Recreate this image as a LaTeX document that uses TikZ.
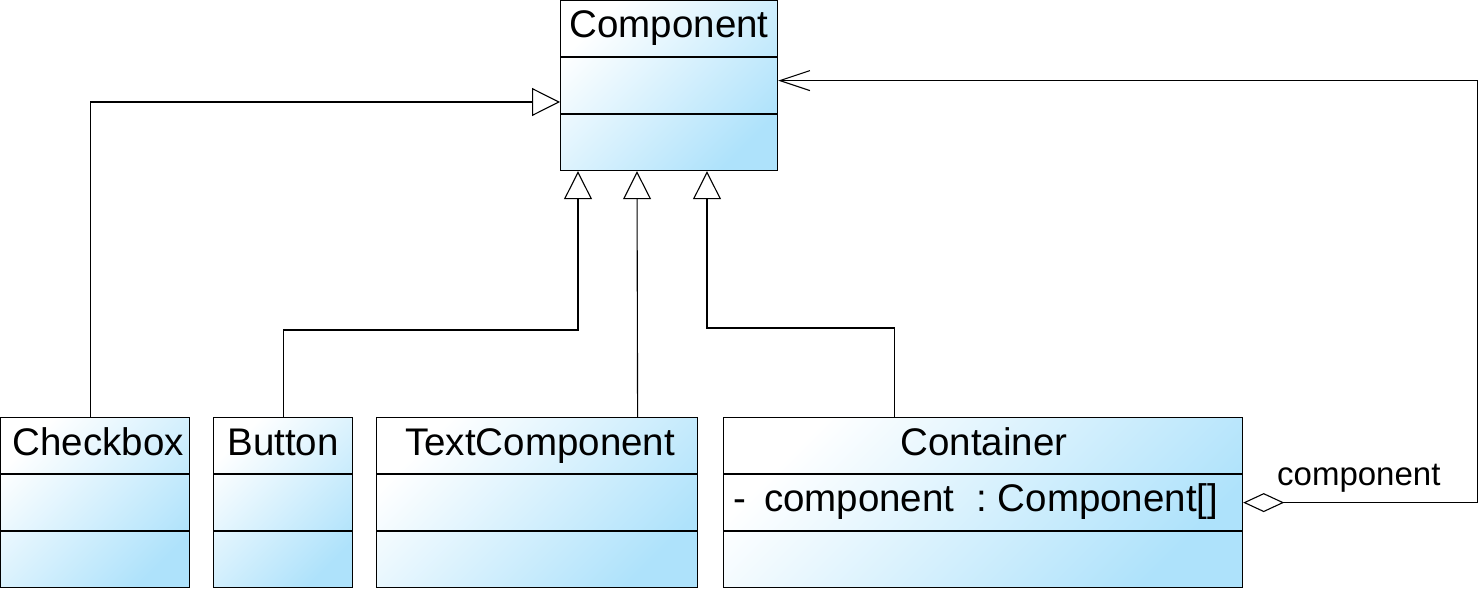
\documentclass[tikz,border=0pt]{standalone}
\usepackage{fontspec}
\setmainfont{Liberation Sans}
\usetikzlibrary{arrows.meta,calc}
\definecolor{umlblue}{RGB}{174,226,251}
\tikzset{
  classbox/.style={draw, line width=1.2pt, top color=white, bottom color=umlblue,
    shading angle=45, anchor=north west, inner sep=0pt, minimum height=170pt},
  divider/.style={line width=1.2pt},
  title/.style={font=\fontsize{38.5}{40}\selectfont, anchor=base, inner sep=0pt},
  attr/.style={font=\fontsize{38.5}{40}\selectfont, anchor=base west, inner sep=0pt},
  lbl/.style={font=\fontsize{33}{35}\selectfont, anchor=base west, inner sep=0pt},
  gen/.style={line width=1.1pt, -{Triangle[open, length=28pt, width=28pt]}},
  agg/.style={line width=1.1pt, {Diamond[open, length=41pt, width=19pt]}-{Straight Barb[length=30pt, width=20pt]}},
}
\begin{document}
\begin{tikzpicture}[x=1pt, y=-1pt]
\useasboundingbox (0,0) rectangle (1481,591);

% classes
\node[classbox, minimum width=217pt] (comp) at (560,0) {};
\node[classbox, minimum width=189pt] (cb) at (0,417) {};
\node[classbox, minimum width=139pt] (btn) at (213,417) {};
\node[classbox, minimum width=321pt] (tc) at (376,417) {};
\node[classbox, minimum width=519pt] (cont) at (723,417) {};

% dividers
\foreach \c in {comp,cb,btn,tc,cont} {
  \draw[divider] ($(\c.north west)+(0,57)$) -- ($(\c.north east)+(0,57)$);
  \draw[divider] ($(\c.north west)+(0,114)$) -- ($(\c.north east)+(0,114)$);
}

% titles
\node[title] (compT) at ($(comp.north)+(0,38)$) {Component};
\node[title] (cbT) at ($(cb.north)+(3,38)$) {Checkbox};
\node[title] (btnT) at ($(btn.north)+(0,38)$) {Button};
\node[title] (tcT) at ($(tc.north)+(3,38)$) {TextComponent};
\node[title] (contT) at ($(cont.north)+(1,38)$) {Container};

% attribute
\node[attr] (contA) at (733,511) {-\hspace{18pt}component\hspace{22pt}:~Component[]};

% generalizations
\draw[gen] ([xshift=-4.5pt]cb.north) |- ($(comp.north west)+(0,102)$);
\draw[gen] (btn.north) -- ++(0,-87) -| ([xshift=18pt]comp.south west);
\draw[gen] ([xshift=100.5pt]tc.north) -- ([xshift=77pt]comp.south west);
\draw[gen] ([xshift=-88.5pt]cont.north) -- ++(0,-89) -| ([xshift=147pt]comp.south west);

% aggregation
\draw[agg] (cont.east) -- ++(234,0) |- ([yshift=5pt]comp.east);
\node[lbl] (aggL) at (1277,485) {component};
\end{tikzpicture}
\end{document}
